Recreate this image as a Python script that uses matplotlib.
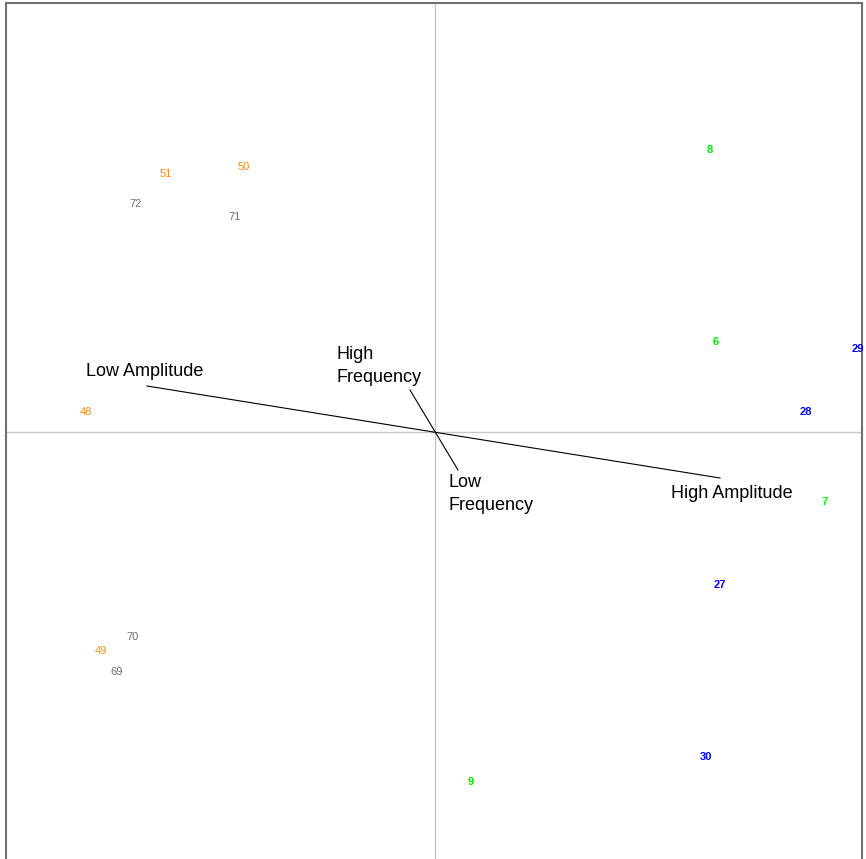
import matplotlib.pyplot as plt

plt.rcParams['font.family'] = ['Liberation Sans', 'DejaVu Sans']

# ====== 資料 (scores) ======
labels = ["51", "50", "72", "71", "48", "70", "49", "69",
          "8", "6", "29", "28", "7", "27", "30", "9"]
x_vals = [-269, -191, -299, -200, -349, -302, -334, -318,
          275, 281, 423, 371, 390, 285, 271, 36]
y_vals = [258, 265, 228, 215, 20, -205, -219, -240,
          282, 90, 83, 20, -70, -153, -325, -350]
groups = ["orange", "orange", "gray", "gray", "orange", "gray", "orange", "gray",
          "green", "green", "blue", "blue", "green", "blue", "blue", "green"]

# ====== 資料 (variable vectors) ======
vec_names = ["Amplitude", "Frequency"]
vec_neg = [(-288, 46), (-25, 42)]
vec_pos = [(285, -46), (23, -38)]
vec_neg_labels = ["Low Amplitude", "High\nFrequency"]
vec_pos_labels = ["High Amplitude", "Low\nFrequency"]

colors = {"orange": "#ff8c1a", "gray": "#707070", "green": "#00ee00", "blue": "#0000ff"}

# ====== 畫圖 ======
fig = plt.figure(figsize=(8.66, 8.59), dpi=100)
ax = fig.add_axes([6 / 866, 0, 856 / 866, 1 - 3 / 859])
ax.set_xlim(-429, 427)
ax.set_ylim(-427, 429)

ax.axhline(0, color="#c8c8c8", lw=1, zorder=1)
ax.axvline(0, color="#c8c8c8", lw=1, zorder=1)

for (x0, y0), (x1, y1) in zip(vec_neg, vec_pos):
    ax.plot([x0, x1], [y0, y1], color="black", lw=0.8, zorder=2)

# 向量文字
ax.text(-349, 61, vec_neg_labels[0], fontsize=13, ha="left", va="center")
ax.text(236, -62, vec_pos_labels[0], fontsize=13, ha="left", va="center")
ax.text(-98, 66, vec_neg_labels[1], fontsize=13, ha="left", va="center", linespacing=1.45)
ax.text(14, -62, vec_pos_labels[1], fontsize=13, ha="left", va="center", linespacing=1.45)

for lab, x, y, g in zip(labels, x_vals, y_vals, groups):
    bold = g in ("green", "blue")
    ax.text(x, y, lab, color=colors[g], fontsize=8,
            fontweight="bold" if bold else "normal",
            ha="center", va="center", clip_on=False, zorder=3)

ax.set_xticks([])
ax.set_yticks([])
for side in ["left", "right", "top"]:
    ax.spines[side].set_color("#707070")
    ax.spines[side].set_linewidth(1.5)
ax.spines["bottom"].set_visible(False)

plt.savefig("out.png", dpi=100)
plt.close()
